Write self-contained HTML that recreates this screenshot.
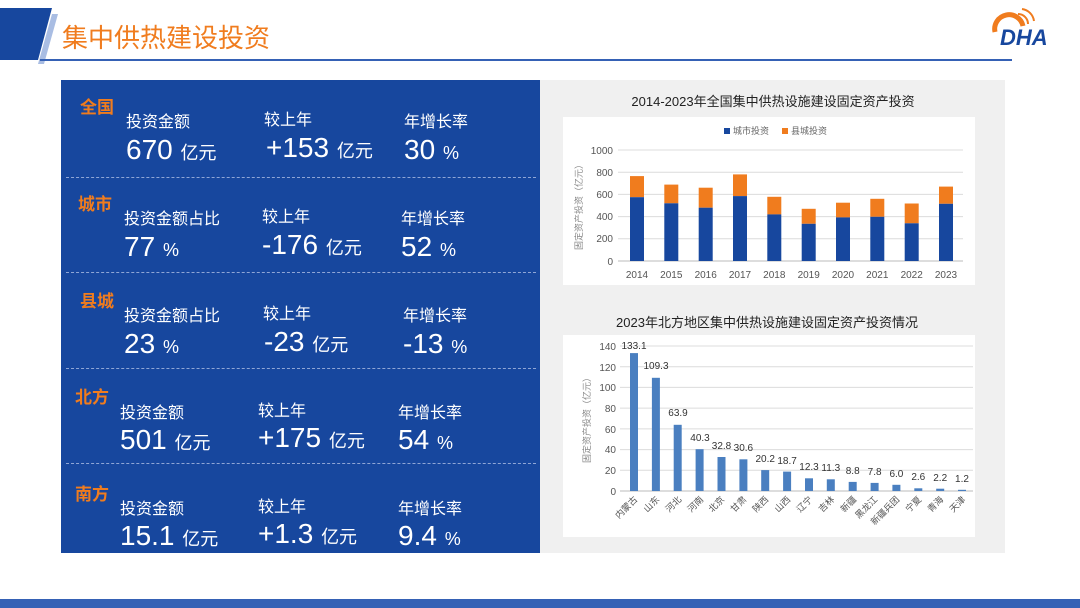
<!DOCTYPE html>
<html><head><meta charset="utf-8"><style>
*{margin:0;padding:0;box-sizing:border-box}
body{width:1080px;height:608px;background:#fff;position:relative;overflow:hidden;font-family:"Liberation Sans","Noto Sans CJK SC",sans-serif}
.a{position:absolute;white-space:nowrap}
.t{color:#f07c1e;font-weight:bold;font-size:17px}
.l{color:#fff;font-size:16px}
.v{color:#fff;font-size:28px;margin-top:1px}
.v small{font-size:18px}
.sep{position:absolute;left:66px;width:470px;border-top:1px dashed #8fa6d6}
</style></head><body>
<svg class="a" style="left:0;top:0" width="1080" height="70">
<polygon points="0,8 52,8 38,60 0,60" fill="#17479e"/>
<polygon points="52,14 58,14 44,64 38,64" fill="#a9bde3"/>
<rect x="40" y="59" width="972" height="2" fill="#3561b5"/>
<path d="M995,32 a14,14 0 0 1 28,-6" stroke="#f07c1e" stroke-width="5" fill="none"/>
<path d="M1018,14 a10,10 0 0 1 10,10 M1022,9 a14,14 0 0 1 12,12" stroke="#f07c1e" stroke-width="2" fill="none"/>
<text x="1000" y="45" font-size="22" font-weight="bold" font-style="italic" fill="#17479e" font-family="Liberation Sans">DHA</text>
</svg>
<div class="a" style="left:62px;top:18px;font-size:26px;color:#f07c1e">集中供热建设投资</div>
<div class="a" style="left:61px;top:80px;width:479px;height:473px;background:#17479e"></div>
<div class="a" style="left:540px;top:80px;width:465px;height:473px;background:#f0f0f0"></div>
<div class="sep" style="top:177px"></div><div class="sep" style="top:272px"></div><div class="sep" style="top:368px"></div><div class="sep" style="top:463px"></div>

<div class="a t" style="left:80px;top:93px">全国</div>
<div class="a l" style="left:126px;top:108px">投资金额</div><div class="a l" style="left:264px;top:106px">较上年</div><div class="a l" style="left:404px;top:108px">年增长率</div>
<div class="a v" style="left:126px;top:133px">670 <small>亿元</small></div><div class="a v" style="left:266px;top:131px">+153 <small>亿元</small></div><div class="a v" style="left:404px;top:133px">30 <small>%</small></div>

<div class="a t" style="left:78px;top:190px">城市</div>
<div class="a l" style="left:124px;top:205px">投资金额占比</div><div class="a l" style="left:262px;top:203px">较上年</div><div class="a l" style="left:401px;top:205px">年增长率</div>
<div class="a v" style="left:124px;top:230px">77 <small>%</small></div><div class="a v" style="left:262px;top:228px">-176 <small>亿元</small></div><div class="a v" style="left:401px;top:230px">52 <small>%</small></div>

<div class="a t" style="left:80px;top:287px">县城</div>
<div class="a l" style="left:124px;top:302px">投资金额占比</div><div class="a l" style="left:263px;top:300px">较上年</div><div class="a l" style="left:403px;top:302px">年增长率</div>
<div class="a v" style="left:124px;top:327px">23 <small>%</small></div><div class="a v" style="left:264px;top:325px">-23 <small>亿元</small></div><div class="a v" style="left:403px;top:327px">-13 <small>%</small></div>

<div class="a t" style="left:75px;top:383px">北方</div>
<div class="a l" style="left:120px;top:399px">投资金额</div><div class="a l" style="left:258px;top:397px">较上年</div><div class="a l" style="left:398px;top:399px">年增长率</div>
<div class="a v" style="left:120px;top:423px">501 <small>亿元</small></div><div class="a v" style="left:258px;top:421px">+175 <small>亿元</small></div><div class="a v" style="left:398px;top:423px">54 <small>%</small></div>

<div class="a t" style="left:75px;top:480px">南方</div>
<div class="a l" style="left:120px;top:495px">投资金额</div><div class="a l" style="left:258px;top:493px">较上年</div><div class="a l" style="left:398px;top:495px">年增长率</div>
<div class="a v" style="left:120px;top:519px">15.1 <small>亿元</small></div><div class="a v" style="left:258px;top:517px">+1.3 <small>亿元</small></div><div class="a v" style="left:398px;top:519px">9.4 <small>%</small></div>

<svg class="a" style="left:0;top:0" width="1080" height="608" font-family="Liberation Sans,Noto Sans CJK SC,sans-serif">
<rect x="0" y="599" width="1080" height="9" fill="#3561b5"/>
<text x="773" y="106" font-size="13" text-anchor="middle" fill="#222">2014-2023年全国集中供热设施建设固定资产投资</text>
<rect x="563" y="117" width="412" height="168" fill="#fff"/>
<rect x="724" y="128" width="6" height="6" fill="#17479e"/><text x="733" y="134" font-size="9" fill="#666">城市投资</text>
<rect x="782" y="128" width="6" height="6" fill="#f07c1e"/><text x="791" y="134" font-size="9" fill="#666">县城投资</text>
<g stroke="#dcdcdc" stroke-width="1">
<line x1="618" x2="963" y1="150" y2="150"/><line x1="618" x2="963" y1="172.2" y2="172.2"/><line x1="618" x2="963" y1="194.4" y2="194.4"/><line x1="618" x2="963" y1="216.6" y2="216.6"/><line x1="618" x2="963" y1="238.8" y2="238.8"/><line x1="618" x2="963" y1="261" y2="261" stroke="#bbb"/></g>
<g font-size="10" fill="#555" text-anchor="end"><text x="613" y="154">1000</text><text x="613" y="176">800</text><text x="613" y="198">600</text><text x="613" y="220">400</text><text x="613" y="242">200</text><text x="613" y="265">0</text></g>
<text transform="translate(582,205) rotate(-90)" font-size="9" fill="#888" text-anchor="middle">固定资产投资（亿元）</text>
<g fill="#f07c1e">
<rect x="630" y="176.1" width="14" height="21.1"/><rect x="664.3" y="184.6" width="14" height="18.7"/><rect x="698.7" y="187.7" width="14" height="20"/><rect x="733" y="174.4" width="14" height="21.7"/><rect x="767.3" y="196.8" width="14" height="17.6"/><rect x="801.7" y="208.8" width="14" height="15"/><rect x="836" y="202.7" width="14" height="14.7"/><rect x="870.3" y="198.8" width="14" height="18"/><rect x="904.7" y="203.5" width="14" height="19.8"/><rect x="939" y="186.6" width="14" height="17.2"/></g>
<g fill="#17479e">
<rect x="630" y="197.2" width="14" height="63.8"/><rect x="664.3" y="203.3" width="14" height="57.7"/><rect x="698.7" y="207.7" width="14" height="53.3"/><rect x="733" y="196.1" width="14" height="64.9"/><rect x="767.3" y="214.4" width="14" height="46.6"/><rect x="801.7" y="223.8" width="14" height="37.2"/><rect x="836" y="217.4" width="14" height="43.6"/><rect x="870.3" y="216.8" width="14" height="44.2"/><rect x="904.7" y="223.3" width="14" height="37.7"/><rect x="939" y="203.8" width="14" height="57.2"/></g>
<g font-size="10" fill="#555" text-anchor="middle"><text x="637" y="278">2014</text><text x="671.3" y="278">2015</text><text x="705.7" y="278">2016</text><text x="740" y="278">2017</text><text x="774.3" y="278">2018</text><text x="808.7" y="278">2019</text><text x="843" y="278">2020</text><text x="877.3" y="278">2021</text><text x="911.7" y="278">2022</text><text x="946" y="278">2023</text></g>

<text x="767" y="327" font-size="13" text-anchor="middle" fill="#222">2023年北方地区集中供热设施建设固定资产投资情况</text>
<rect x="563" y="335" width="412" height="202" fill="#fff"/>
<g stroke="#dcdcdc"><line x1="620" x2="973" y1="346" y2="346"/><line x1="620" x2="973" y1="366.7" y2="366.7"/><line x1="620" x2="973" y1="387.4" y2="387.4"/><line x1="620" x2="973" y1="408.1" y2="408.1"/><line x1="620" x2="973" y1="428.9" y2="428.9"/><line x1="620" x2="973" y1="449.6" y2="449.6"/><line x1="620" x2="973" y1="470.3" y2="470.3"/><line x1="620" x2="973" y1="491" y2="491" stroke="#bbb"/></g>
<g font-size="10" fill="#555" text-anchor="end"><text x="616" y="350">140</text><text x="616" y="371">120</text><text x="616" y="391">100</text><text x="616" y="412">80</text><text x="616" y="433">60</text><text x="616" y="453">40</text><text x="616" y="474">20</text><text x="616" y="495">0</text></g>
<text transform="translate(590,418) rotate(-90)" font-size="9" fill="#888" text-anchor="middle">固定资产投资（亿元）</text>
<g fill="#4a7fc0">
<rect x="630" y="353.1" width="8" height="137.9"/><rect x="651.9" y="377.8" width="8" height="113.2"/><rect x="673.7" y="424.8" width="8" height="66.2"/><rect x="695.6" y="449.2" width="8" height="41.8"/><rect x="717.5" y="457" width="8" height="34"/><rect x="739.4" y="459.3" width="8" height="31.7"/><rect x="761.2" y="470.1" width="8" height="20.9"/><rect x="783.1" y="471.6" width="8" height="19.4"/><rect x="805" y="478.3" width="8" height="12.7"/><rect x="826.8" y="479.3" width="8" height="11.7"/><rect x="848.7" y="481.9" width="8" height="9.1"/><rect x="870.6" y="482.9" width="8" height="8.1"/><rect x="892.4" y="484.8" width="8" height="6.2"/><rect x="914.3" y="488.3" width="8" height="2.7"/><rect x="936.2" y="488.7" width="8" height="2.3"/><rect x="958" y="489.8" width="8" height="1.2"/></g>
<g font-size="10" fill="#333" text-anchor="middle">
<text x="634" y="349">133.1</text><text x="656" y="369">109.3</text><text x="678" y="416">63.9</text><text x="700" y="441">40.3</text><text x="721.5" y="449">32.8</text><text x="743.4" y="451">30.6</text><text x="765.2" y="462">20.2</text><text x="787.1" y="464">18.7</text><text x="809" y="470">12.3</text><text x="830.8" y="471">11.3</text><text x="852.7" y="474">8.8</text><text x="874.6" y="475">7.8</text><text x="896.4" y="477">6.0</text><text x="918.3" y="480">2.6</text><text x="940.2" y="481">2.2</text><text x="962" y="482">1.2</text></g>
<g font-size="9" fill="#555" text-anchor="end">
<text transform="translate(638,500) rotate(-45)">内蒙古</text><text transform="translate(660,500) rotate(-45)">山东</text><text transform="translate(682,500) rotate(-45)">河北</text><text transform="translate(704,500) rotate(-45)">河南</text><text transform="translate(725,500) rotate(-45)">北京</text><text transform="translate(747,500) rotate(-45)">甘肃</text><text transform="translate(769,500) rotate(-45)">陕西</text><text transform="translate(791,500) rotate(-45)">山西</text><text transform="translate(813,500) rotate(-45)">辽宁</text><text transform="translate(835,500) rotate(-45)">吉林</text><text transform="translate(857,500) rotate(-45)">新疆</text><text transform="translate(878,500) rotate(-45)">黑龙江</text><text transform="translate(900,500) rotate(-45)">新疆兵团</text><text transform="translate(922,500) rotate(-45)">宁夏</text><text transform="translate(944,500) rotate(-45)">青海</text><text transform="translate(966,500) rotate(-45)">天津</text></g>
</svg>
</body></html>
